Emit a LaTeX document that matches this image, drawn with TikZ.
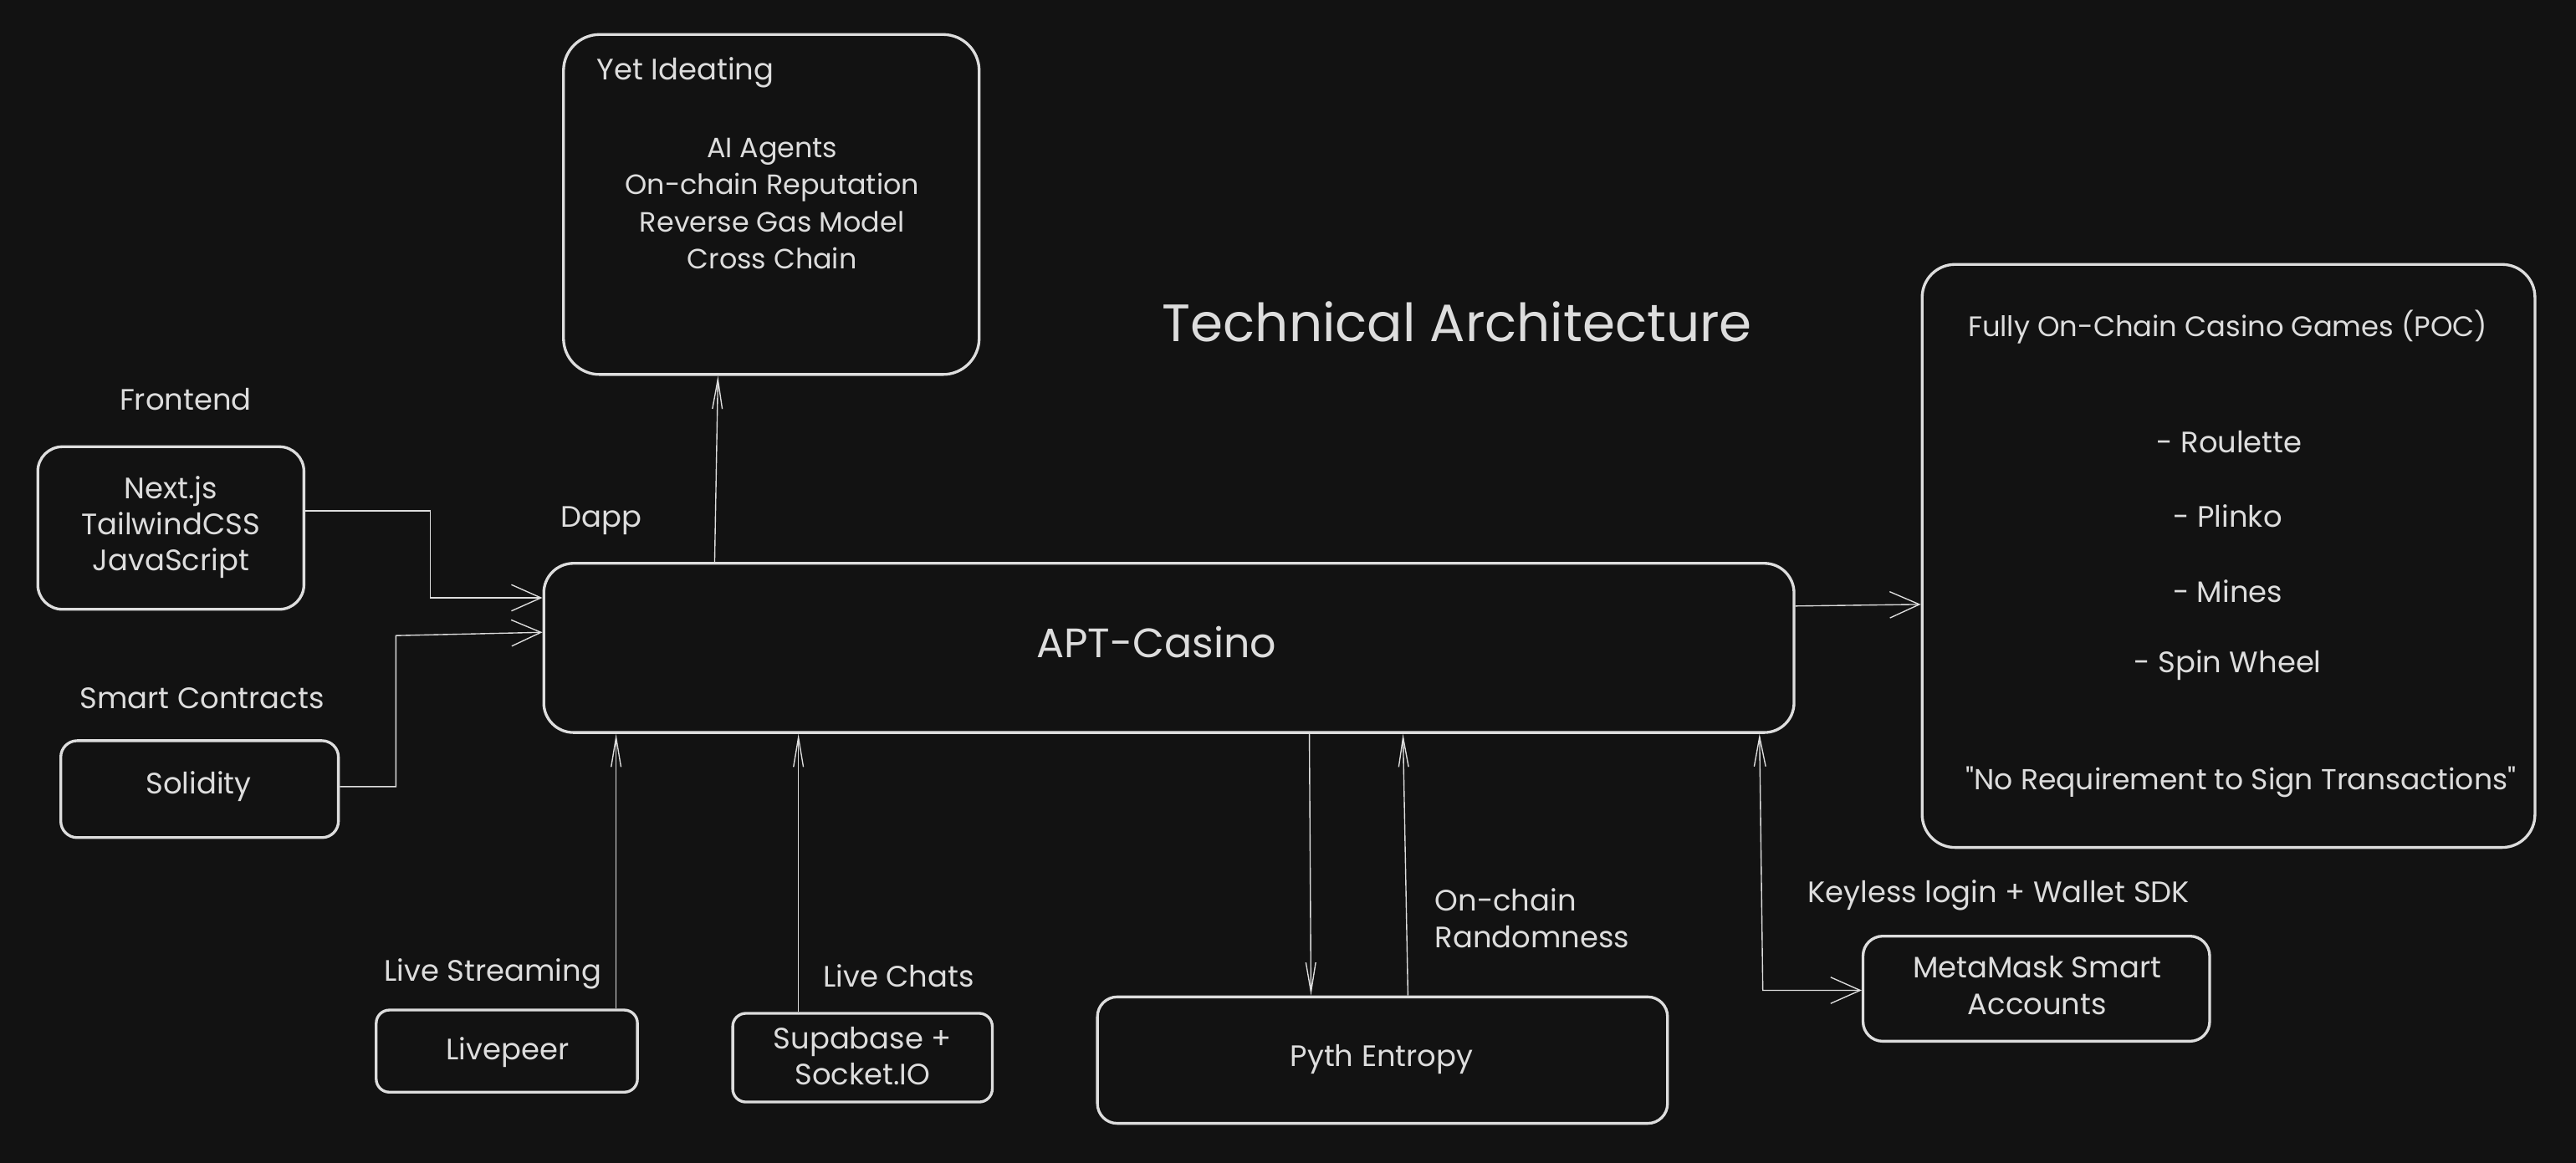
\documentclass[tikz,border=0pt]{standalone}
\usepackage{fontspec}
\setmainfont{Poppins}[Ligatures=TeXOff]
\usetikzlibrary{arrows.meta,fit,calc}
\definecolor{bg}{HTML}{121212}
\definecolor{fg}{HTML}{DDDDDD}
\begin{document}
\begin{tikzpicture}[x=0.5pt,y=-0.5pt,
  box/.style={draw=fg, line width=0.85pt, rounded corners=#1, inner sep=0pt},
  box/.default=8pt,
  txt/.style={text=fg, font=\fontsize{9}{11.25}\selectfont, inner sep=0pt, align=center},
  wide/.style={draw=fg, line width=0.35pt, -{Straight Barb[length=9pt,width=8pt]}},
  narrow/.style={draw=fg, line width=0.35pt, -{Straight Barb[length=9pt,width=3pt]}},
]
\fill[bg] (0,0) rectangle (1568,708);
\useasboundingbox (0,0) rectangle (1568,708);

% Yet ideating
\node[box=11pt, fit={(343,21) (596,228)}] (yet) {};
\node[txt, anchor=west] (yett) at (363,44) {Yet Ideating};
\node[txt, font=\fontsize{8.5}{11.25}\selectfont] (ideas) at (470,124) {AI Agents\\On-chain Reputation\\Reverse Gas Model\\Cross Chain};

% title
\node[txt, font=\fontsize{16}{19}\selectfont] (title) at (887,196) {Technical Architecture};

% frontend
\node[txt] (felab) at (113,243) {Frontend};
\node[box=7.5pt, fit={(23,272) (185,371)}] (fe) {};
\node[txt, font=\fontsize{9}{11}\selectfont] (fet) at (104,321) {Next.js\\TailwindCSS\\JavaScript};

% dapp
\node[txt] (dapp) at (366,317) {Dapp};
\node[box=9pt, fit={(331,343) (1092,446)}] (apt) {};
\node[txt, font=\fontsize{12.5}{15}\selectfont] (aptt) at (704,391) {APT-Casino};

% smart contracts
\node[txt] (sclab) at (123,425) {Smart Contracts};
\node[box=5pt, fit={(37,451) (206,510)}] (sol) {};
\node[txt] (solt) at (121,479) {Solidity};

% games
\node[box=10pt, fit={(1170,161) (1543,516)}] (foc) {};
\node[txt, font=\fontsize{8.6}{11}\selectfont] (foct) at (1356,199) {Fully On-Chain Casino Games (POC)};
\node[txt] (g1) at (1357,269) {- Roulette};
\node[txt] (g2) at (1356,314) {- Plinko};
\node[txt] (g3) at (1356,360) {- Mines};
\node[txt] (g4) at (1356,405) {- Spin Wheel};
\node[txt, font=\fontsize{8.8}{11}\selectfont] (quote) at (1364,476) {"No Requirement to Sign Transactions"};

% bottom
\node[txt] (lslab) at (300,593) {Live Streaming};
\node[box=4pt, fit={(229,615) (388,665)}] (lp) {};
\node[txt] (lpt) at (309,641) {Livepeer};
\node[txt] (lclab) at (547,594) {Live Chats};
\node[box=4pt, fit={(446,617) (604,671)}] (sb) {};
\node[txt, font=\fontsize{9}{11}\selectfont] (sbt) at (525,643) {Supabase +\\Socket.IO};
\node[box=6pt, fit={(668,607) (1015,684)}] (pyth) {};
\node[txt] (pytht) at (841,645) {Pyth Entropy};
\node[txt, anchor=west, align=left] (rand) at (873,559) {On-chain\\Randomness};
\node[txt, anchor=west] (keyless) at (1100,545) {Keyless login + Wallet SDK};
\node[box=6pt, fit={(1134,570) (1345,634)}] (mm) {};
\node[txt] (mmt) at (1240,600) {MetaMask Smart\\Accounts};

% connectors
\draw[wide] (fe.east |- 0,311) -- (262,311) -- (262,364) -- (apt.west |- 0,364);
\draw[wide] (sol.east |- 0,479) -- (241,479) -- (241,387) -- (apt.west |- 0,385);
\draw[narrow] (apt.north -| 435,0) -- (yet.south -| 437,0);
\draw[wide] (apt.east |- 0,369) -- (foc.west |- 0,368);
\draw[narrow] (lp.north -| 375,0) -- (apt.south -| 375,0);
\draw[narrow] (sb.north -| 486,0) -- (apt.south -| 486,0);
\draw[narrow] (apt.south -| 797,0) -- (pyth.north -| 798,0);
\draw[narrow] (pyth.north -| 857,0) -- (apt.south -| 854,0);
\draw[draw=fg, line width=0.35pt, {Straight Barb[length=9pt,width=3.5pt]}-{Straight Barb[length=9pt,width=8pt]}]
  (apt.south -| 1071,0) -- (1073,603) -- (mm.west |- 0,603);
\end{tikzpicture}
\end{document}
